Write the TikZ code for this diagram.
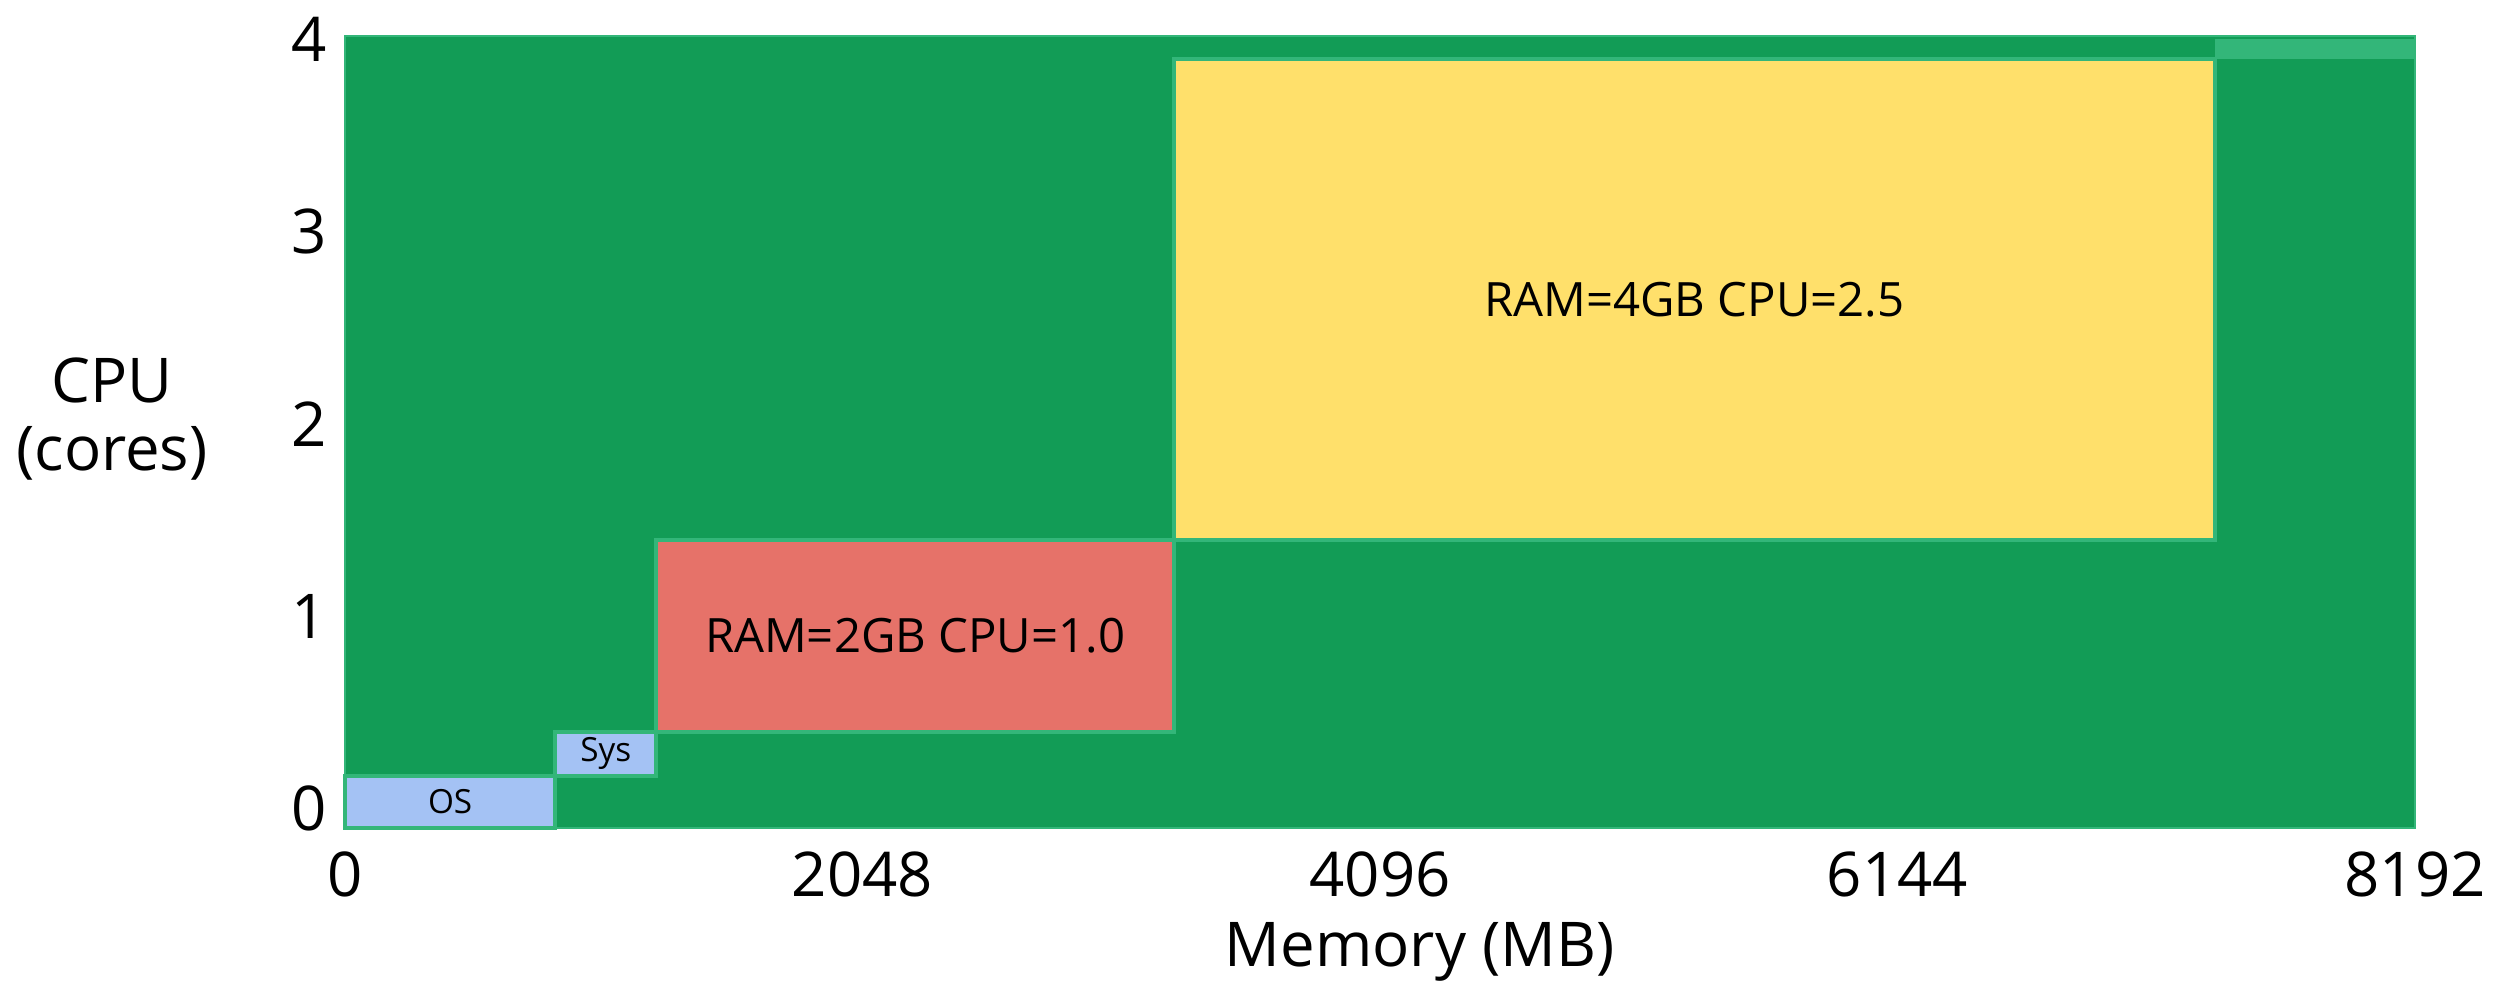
\documentclass[tikz,border=0pt]{standalone}
\usepackage{fontspec}
\setmainfont{Open Sans}
\usepackage{xcolor}
\usetikzlibrary{positioning}

\definecolor{freegreen}{HTML}{129C56}
\definecolor{edgegreen}{HTML}{33B679}
\definecolor{sysblue}{HTML}{A4C2F4}
\definecolor{podred}{HTML}{E67269}
\definecolor{podyellow}{HTML}{FFE06B}

\begin{document}
\begin{tikzpicture}[
    x=0.0025269cm, y=1.9275cm,
    alloc/.style={draw=edgegreen, line width=1.2pt},
    podtext/.style={font=\fontsize{13.5}{16}\selectfont},
    systext/.style={font=\fontsize{9.5}{11}\selectfont},
    ticktext/.style={font=\fontsize{17.6}{21}\selectfont, inner sep=0pt},
    axistext/.style={font=\fontsize{17.6}{19.4}\selectfont, align=center}
]
\useasboundingbox (-1365.3,-0.8093) rectangle (8536.2,4.3061);

% Node capacity
\draw[fill=freegreen, draw=edgegreen, line width=0.5pt] (0,0) rectangle (8192,4.12);
\fill[edgegreen] (7400,4.0) rectangle (8192,4.105);

% Reserved
\draw[alloc, fill=sysblue] (0,0) rectangle (832,0.27);
\draw[alloc, fill=sysblue] (832,0.27) rectangle (1232,0.5);
\node[systext] (os) at (416,0.14) {OS};
\node[systext] (sys) at (1032,0.39) {Sys};

% Pods
\draw[alloc, fill=podred] (1232,0.5) rectangle (3280,1.5);
\draw[alloc, fill=podyellow] (3280,1.5) rectangle (7400,4.0);
\node[podtext] (small) at (2256,1.0) {RAM=2GB CPU=1.0};
\node[podtext] (large) at (5340,2.75) {RAM=4GB CPU=2.5};

% Axes
\foreach \m in {0,2048,4096,6144,8192}
    \node[ticktext] (m\m) at (\m,-0.239) {\m};
\foreach \c in {0,...,4}
    \node[ticktext, anchor=east] (c\c) at (-71,\c+0.1) {\c};
\node[axistext] (memlabel) at (4253,-0.643) {Memory (MB)};
\node[axistext] (cpulabel) at (-922,2.127) {CPU\\(cores)};

\end{tikzpicture}
\end{document}
